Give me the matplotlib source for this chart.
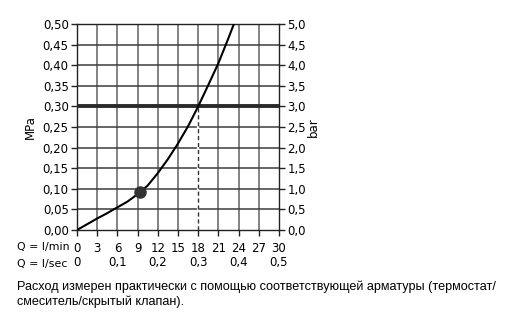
import numpy as np
import matplotlib.pyplot as plt
from matplotlib.ticker import FuncFormatter

# data
flow_lmin = [0, 1.5, 3, 4.5, 6, 7.5, 9, 10.5, 12, 13.5, 15, 16.5, 18, 19.5, 21, 22.5, 23.3]
pressure_mpa = [0, 0.014, 0.028, 0.041, 0.055, 0.069, 0.087, 0.108, 0.138, 0.172,
                0.21, 0.252, 0.30, 0.352, 0.405, 0.466, 0.50]
marker_flow = [9.4]
marker_pressure = [0.093]
max_pressure = 0.30
max_flow = 18

lmin_ticks = [0, 3, 6, 9, 12, 15, 18, 21, 24, 27, 30]
lsec_ticks = [0, 0.1, 0.2, 0.3, 0.4, 0.5]
mpa_ticks = np.arange(0, 0.501, 0.05)
bar_ticks = np.arange(0, 5.01, 0.5)

caption = ("Расход измерен практически с помощью соответствующей арматуры (термостат/\n"
           "смеситель/скрытый клапан).")

plt.rcParams['font.family'] = ['DejaVu Sans']
tick_font = 8.5

fig = plt.figure(figsize=(5.08, 3.24), dpi=100)
ax = fig.add_axes([77/508, 1 - 230/324, 202/508, 206/324])

ax.set_xlim(0, 30)
ax.set_ylim(0, 0.5)
ax.set_xticks(lmin_ticks)
ax.set_yticks(mpa_ticks)

# grid
for x in lmin_ticks[1:-1]:
    ax.axvline(x, color='#7a7a7a', lw=1.3, zorder=1)
for y in mpa_ticks[1:-1]:
    ax.axhline(y, color='#3c3c3c', lw=1.1, zorder=1)

# dashed marker line at 18 l/min
ax.plot([max_flow, max_flow], [0, max_pressure], color='white', lw=1.6, zorder=2)
ax.plot([max_flow, max_flow], [0, max_pressure], color='#333333', lw=1.0,
        ls=(0, (3, 2)), zorder=3)
ax.axhline(max_pressure, color='#2a2a2a', lw=2.8, zorder=3)

ax.plot(flow_lmin, pressure_mpa, color='black', lw=1.5, zorder=4)
ax.plot(marker_flow, marker_pressure, 'o', color='#333333', ms=8, zorder=5)

for s in ax.spines.values():
    s.set_color('#222222')
    s.set_linewidth(1.0)

comma = lambda fmt: FuncFormatter(lambda v, p: (fmt % v).replace('.', ','))
ax.yaxis.set_major_formatter(comma('%.2f'))
ax.xaxis.set_major_formatter(FuncFormatter(lambda v, p: '%d' % v))
ax.tick_params(axis='y', direction='out', length=4, width=1, pad=2,
               labelsize=tick_font, color='#222222')
ax.tick_params(axis='x', direction='out', length=4, width=1, pad=5,
               labelsize=tick_font, color='#222222')
ax.set_ylabel('MPa', fontsize=tick_font, labelpad=4)

ax2 = ax.twinx()
ax2.set_ylim(0, 5)
ax2.set_yticks(bar_ticks)
ax2.yaxis.set_major_formatter(comma('%.1f'))
ax2.tick_params(axis='y', direction='out', length=4, width=1, pad=2,
                labelsize=tick_font, color='#222222')
ax2.set_ylabel('bar', fontsize=tick_font, labelpad=1)
for s in ax2.spines.values():
    s.set_visible(False)

sec = ax.secondary_xaxis('bottom', functions=(lambda q: q / 60, lambda s: s * 60))
sec.set_xticks(lsec_ticks)
sec.xaxis.set_major_formatter(FuncFormatter(lambda v, p: '0' if v == 0 else ('%.1f' % v).replace('.', ',')))
sec.tick_params(axis='x', length=0, pad=19, labelsize=tick_font)
sec.spines['bottom'].set_visible(False)

fig.text(17/508, 1 - 247/324, 'Q = l/min', fontsize=7.9, va='center', ha='left')
fig.text(17/508, 1 - 264/324, 'Q = l/sec', fontsize=7.9, va='center', ha='left')

fig.text(17/508, 1 - 294/324, caption, fontsize=9.1, family='Liberation Sans',
         va='center', ha='left', linespacing=1.25)

fig.savefig('out.png', dpi=100)
